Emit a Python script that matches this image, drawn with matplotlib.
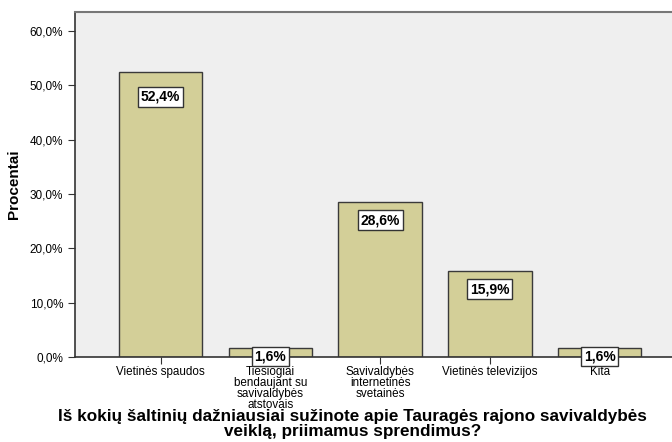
import numpy as np
import matplotlib.pyplot as plt
from matplotlib.ticker import FuncFormatter

# categories and percentages
categories = ['Vietinės spaudos',
              'Tiesiogiai\nbendaujant su\nsavivaldybės\natstovais',
              'Savivaldybės\ninternetinės\nsvetainės',
              'Vietinės televizijos',
              'Kita']
values = [52.4, 1.6, 28.6, 15.9, 1.6]
value_labels = ['52,4%', '1,6%', '28,6%', '15,9%', '1,6%']
y_ticks = [0, 10, 20, 30, 40, 50, 60]

plt.rcParams['font.family'] = ['Liberation Sans', 'DejaVu Sans']

fig = plt.figure(figsize=(6.72, 4.42), dpi=100)
ax = fig.add_axes([75 / 672, 1 - 357 / 442, 1 - 75 / 672 + 0.01, (357 - 12) / 442])
ax.set_facecolor('#efefef')

x = np.arange(len(categories))
ax.bar(x, values, width=0.76, color='#d3cf98', edgecolor='#3a3a3a', linewidth=1.0, zorder=2)

# value boxes inside the bars
for i in range(len(x)):
    y = max(values[i] - 3.4, 0.1)
    if values[i] > 40:
        y = values[i] - 4.5
    ax.text(x[i], y, value_labels[i], ha='center', va='center', fontsize=10, fontweight='bold',
            bbox=dict(boxstyle='square,pad=0.2', facecolor='white', edgecolor='#333333', linewidth=1.0),
            zorder=3)

ax.set_xlim(-0.78, 4.72)
ax.set_ylim(0, 63.5)
ax.set_yticks(y_ticks)
ax.yaxis.set_major_formatter(FuncFormatter(lambda v, p: f'{v:.1f}%'.replace('.', ',')))
ax.set_xticks(x)
ax.set_xticklabels(categories, fontsize=8.4, linespacing=0.9)
ax.tick_params(axis='y', labelsize=8.5, length=5, color='#333333')
ax.tick_params(axis='x', length=5, color='#333333', pad=1.5)

for s in ['left', 'bottom']:
    ax.spines[s].set_color('#333333')
    ax.spines[s].set_linewidth(1.2)
ax.spines['top'].set_color('#777777')
ax.spines['top'].set_linewidth(1.5)
ax.spines['right'].set_visible(False)

ax.set_ylabel('Procentai', fontsize=11, fontweight='bold', labelpad=6)
fig.text(0.5 + 0.024, 0.04,
         'Iš kokių šaltinių dažniausiai sužinote apie Tauragės rajono savivaldybės\nveiklą, priimamus sprendimus?',
         ha='center', va='center', fontsize=12.3, fontweight='bold', linespacing=1.0)

fig.savefig('out.png', dpi=100)
